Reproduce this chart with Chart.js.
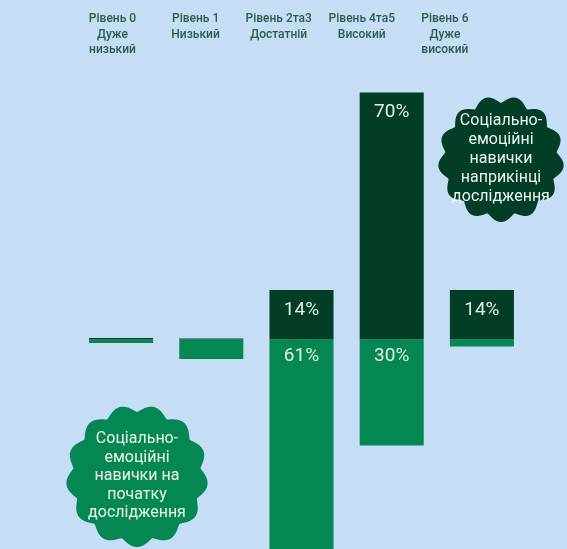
<!DOCTYPE html>
<html>
<head>
<meta charset="utf-8">
<script src="https://cdn.jsdelivr.net/npm/chart.js@4.4.1/dist/chart.umd.min.js"></script>
<style>
  html, body { margin: 0; padding: 0; background: #c5ddf5; }
  #wrap { width: 567px; height: 549px; }
</style>
</head>
<body>
<div id="wrap"><canvas id="chart"></canvas></div>
<script>
// data
const levels = [
  ['Рівень 0', 'Дуже', 'низький'],
  ['Рівень 1', 'Низький'],
  ['Рівень 2та3', 'Достатній'],
  ['Рівень 4та5', 'Високий'],
  ['Рівень 6', 'Дуже', 'високий']
];
const endValues = [0.4, 0.3, 14, 70, 14];     // наприкінці дослідження
const startValues = [1, 5.5, 61, 30, 2];      // на початку дослідження
const shownLabels = 10; // values below this are not labelled

const darkGreen = '#023d26';
const green = '#048752';

// badges (scalloped circles)
const badges = [
  { x: 501, y: 159, r: 63, depth: 7, color: darkGreen, lh: 19,
    lines: ['Соціально-', 'емоційні', 'навички', 'наприкінці', 'дослідження'] },
  { x: 137, y: 476, r: 71, depth: 7, color: green, lh: 18.5,
    lines: ['Соціально-', 'емоційні', 'навички на', 'початку', 'дослідження'] }
];

const badgePlugin = {
  id: 'badges',
  afterDatasetsDraw(chart) {
    const ctx = chart.ctx;
    badges.forEach(b => {
      ctx.save();
      ctx.beginPath();
      const n = 13;
      for (let i = 0; i <= 720; i++) {
        const t = i / 720 * Math.PI * 2;
        const f = Math.pow((1 + Math.cos(n * t)) / 2, 0.6);
        const rr = b.r - b.depth * (1 - f);
        const px = b.x + rr * Math.sin(t), py = b.y + rr * Math.cos(t);
        i ? ctx.lineTo(px, py) : ctx.moveTo(px, py);
      }
      ctx.closePath();
      ctx.fillStyle = b.color;
      ctx.fill();
      ctx.fillStyle = '#eef4ef';
      ctx.font = '16px Roboto';
      ctx.textAlign = 'center';
      ctx.textBaseline = 'middle';
      const y0 = b.y - (b.lines.length - 1) * b.lh / 2;
      b.lines.forEach((l, i) => ctx.fillText(l, b.x, y0 + i * b.lh));
      ctx.restore();
    });
  }
};

const valuePlugin = {
  id: 'values',
  afterDatasetsDraw(chart) {
    const ctx = chart.ctx;
    ctx.save();
    ctx.font = '19px Roboto';
    ctx.fillStyle = '#e4eee7';
    ctx.textAlign = 'center';
    ctx.textBaseline = 'middle';
    chart.data.datasets.forEach((ds, di) => {
      chart.getDatasetMeta(di).data.forEach((bar, i) => {
        const v = Math.abs(ds.data[i]);
        if (v < shownLabels) return;
        const y = di === 0 ? bar.y + 20 : bar.base + 17;
        ctx.fillText(Math.round(v) + '%', bar.x, y);
      });
    });
    ctx.restore();
  }
};

new Chart(document.getElementById('chart'), {
  type: 'bar',
  data: {
    labels: levels.map(l => l.join(' ')),
    datasets: [
      { label: 'наприкінці', data: endValues, backgroundColor: darkGreen },
      { label: 'на початку', data: startValues.map(v => -v), backgroundColor: green }
    ]
  },
  options: {
    responsive: true,
    maintainAspectRatio: false,
    animation: false,
    layout: { padding: { left: 76, right: 40, top: 0, bottom: 0 } },
    datasets: { bar: { categoryPercentage: 1, barPercentage: 0.71 } },
    plugins: { legend: { display: false }, tooltip: { enabled: false } },
    scales: {
      x: { stacked: true, display: false },
      x2: {
        type: 'linear', position: 'top', bounds: 'data', offset: false, min: -0.439, max: 4.988,
        grid: { display: false, drawTicks: false }, border: { display: false },
        afterFit: s => { s.height = 70; },
        afterBuildTicks: s => { s.ticks = levels.map((l, i) => ({ value: i })); },
        ticks: {
          padding: 12, crossAlign: 'far',
          color: '#2c5c4e', font: { family: 'Roboto', size: 12, weight: '500', lineHeight: 1.3 },
          callback: v => levels[v] || ''
        }
      },
      y: { stacked: true, display: false, min: -59.35, max: 76.35 }
    }
  },
  plugins: [valuePlugin, badgePlugin]
});
</script>
</body>
</html>
